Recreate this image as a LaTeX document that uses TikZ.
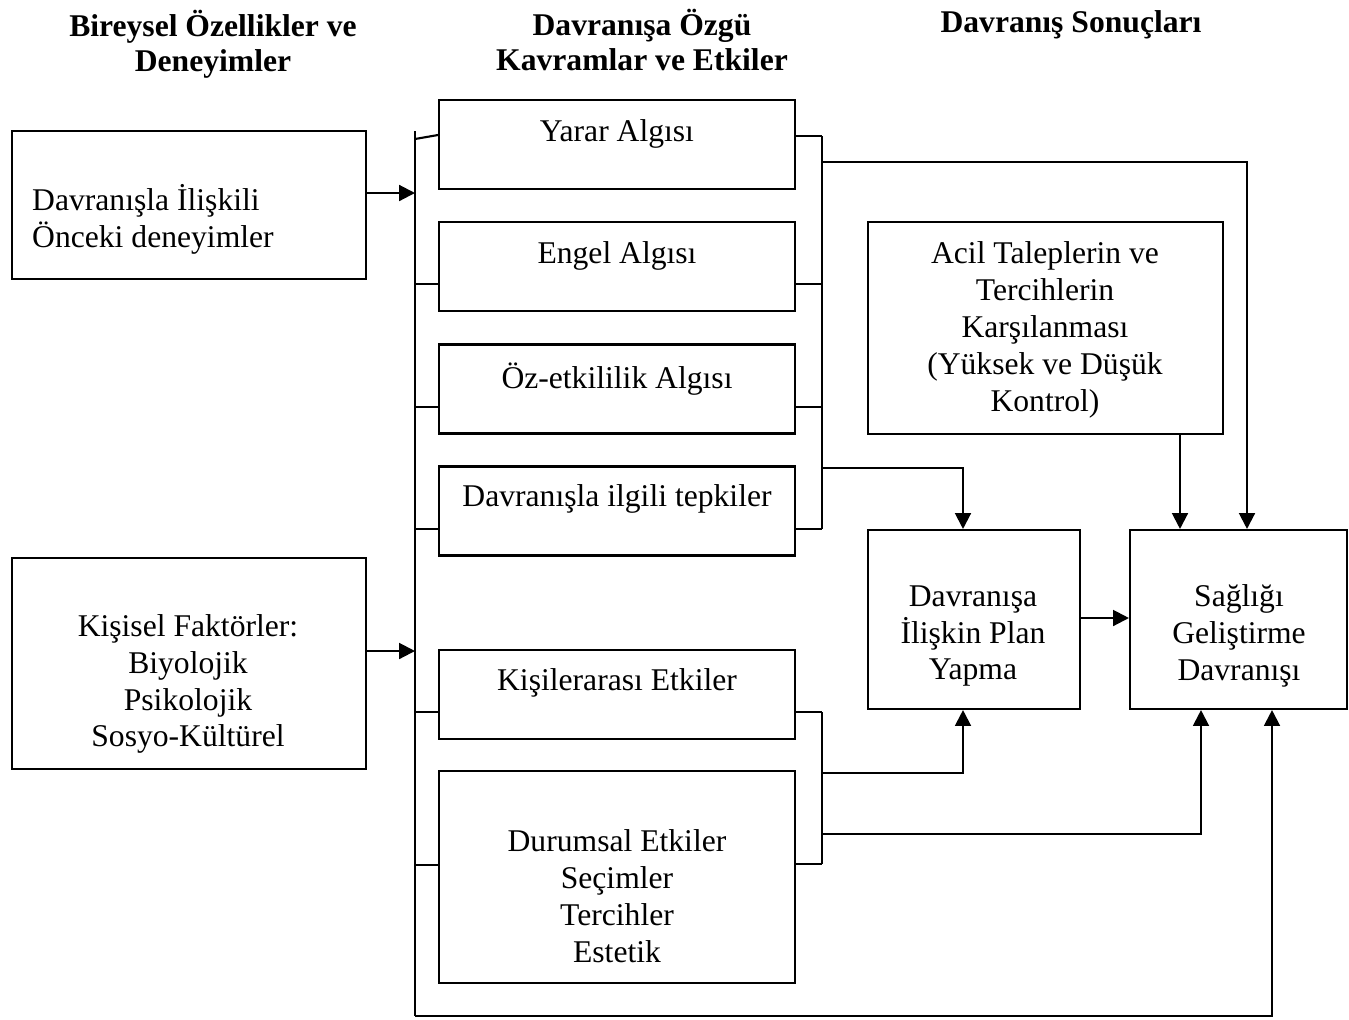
\documentclass[tikz,border=0pt]{standalone}
\usepackage{fontspec}
\setmainfont{Liberation Serif}
\usetikzlibrary{arrows.meta}

\begin{document}
\begin{tikzpicture}[x=0.02cm,y=-0.02cm,
  box/.style={draw,line width=1.2pt,inner sep=0pt},
  txt/.style={align=center,font=\fontsize{18}{21}\selectfont},
  head/.style={align=center,font=\fontsize{18}{20}\selectfont\bfseries},
  wire/.style={line width=1.2pt},
  arr/.style={line width=1.2pt,-{Triangle[length=9pt,width=9pt]}}]
\useasboundingbox (0,0) rectangle (1349,1019);
% column titles
\node[head] (h1) at (213,44) {Bireysel Özellikler ve\\Deneyimler};
\node[head] (h2) at (642,40) {Davranışa Özgü\\Kavramlar ve Etkiler};
\node[head] (h3) at (1071,25) {Davranış Sonuçları};
% left column
\node[box,minimum width=7.08cm,minimum height=2.96cm] (prev) at (189,205) {};
\node[txt,anchor=west,align=left] (prev-t) at (26,219) {Davranışla İlişkili\\Önceki deneyimler};
\node[box,minimum width=7.08cm,minimum height=4.22cm] (pers) at (189,663.5) {};
\node[txt] (pers-t) at (188,684) {Kişisel Faktörler:\\Biyolojik\\Psikolojik\\Sosyo-Kültürel};
% middle column
\foreach \n/\cy/\ty/\lab in {yarar/144.5/134/Yarar Algısı,engel/266.5/256/Engel Algısı,
    oz/389/379/Öz-etkililik Algısı,tepki/511/499/Davranışla ilgili tepkiler,
    kisi/694.5/683/Kişilerarası Etkiler} {
  \node[box,minimum width=7.12cm,minimum height=1.78cm] (\n) at (617,\cy) {};
  \node[txt] (\n-t) at (617,\ty) {\lab};
}
\node[box,minimum width=7.12cm,minimum height=4.24cm] (durum) at (617,877) {};
\node[txt] (durum-t) at (617,896) {Durumsal Etkiler\\Seçimler\\Tercihler\\Estetik};
% right column
\node[box,minimum width=7.10cm,minimum height=4.24cm] (acil) at (1045.5,328) {};
\node[txt] (acil-t) at (1045,330) {Acil Taleplerin ve\\Tercihlerin\\Karşılanması\\(Yüksek ve Düşük\\Kontrol)};
\node[box,minimum width=4.24cm,minimum height=3.58cm] (plan) at (974,619.5) {};
\node[txt] (plan-t) at (973,636) {Davranışa\\İlişkin Plan\\Yapma};
\node[box,minimum width=4.34cm,minimum height=3.58cm] (sag) at (1238.5,619.5) {};
\node[txt] (sag-t) at (1239,636) {Sağlığı\\Geliştirme\\Davranışı};
% bus lines
\coordinate (lbusT) at (415,131);
\coordinate (lbusB) at (415,1016);
\coordinate (rbusT) at (822,136);
\coordinate (rbusB) at (822,529);
\coordinate (rbus2T) at (822,712);
\coordinate (rbus2B) at (822,864);
\draw[wire] (lbusT) -- (lbusB);
\draw[wire] (rbusT) -- (rbusB);
\draw[wire] (rbus2T) -- (rbus2B);
\draw[wire] (lbusT |- 0,139) -- (yarar.west |- 0,135);
\foreach \n/\y in {engel/284,oz/407,tepki/529,kisi/712,durum/865}
  \draw[wire] (lbusT |- 0,\y) -- (\n.west |- 0,\y);
\foreach \n/\y in {yarar/136,engel/284,oz/407,tepki/529}
  \draw[wire] (\n.east |- 0,\y) -- (rbusT |- 0,\y);
\foreach \n/\y in {kisi/712,durum/864}
  \draw[wire] (\n.east |- 0,\y) -- (rbus2T |- 0,\y);
% arrows
\draw[arr] (prev.east |- 0,193) -- (lbusT |- 0,193);
\draw[arr] (pers.east |- 0,651) -- (lbusT |- 0,651);
\draw[arr] (rbusT |- 0,162) -| (sag.north -| 1247,0);
\draw[arr] (rbusT |- 0,468) -| (plan.north -| 963,0);
\draw[arr] (acil.south -| 1180,0) -- (sag.north -| 1180,0);
\draw[arr] (plan.east |- 0,618) -- (sag.west |- 0,618);
\draw[arr] (rbus2T |- 0,773) -| (plan.south -| 963,0);
\draw[arr] (rbus2T |- 0,834) -| (sag.south -| 1201,0);
\draw[arr] (lbusB) -| (sag.south -| 1272,0);
\end{tikzpicture}
\end{document}
